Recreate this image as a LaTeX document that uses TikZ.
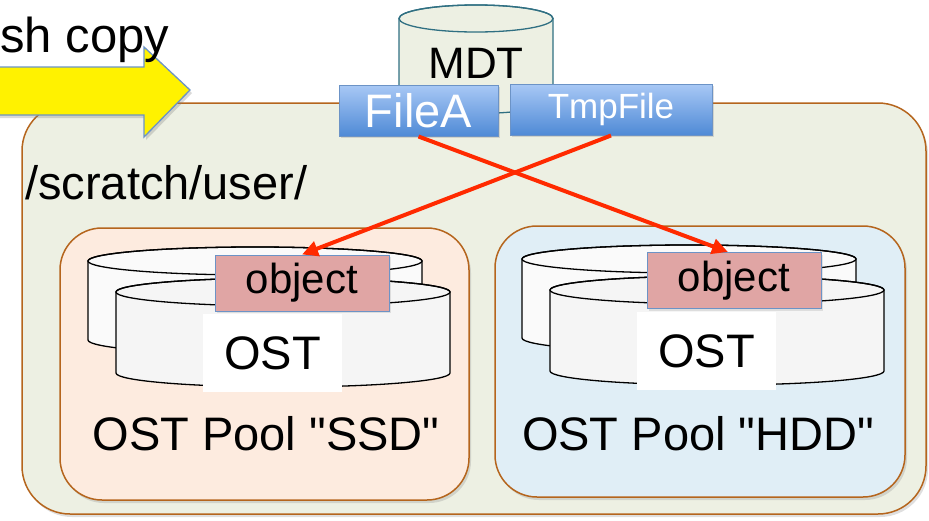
\documentclass[tikz,border=0pt]{standalone}
\usepackage{fontspec}
\setmainfont{Liberation Sans}
\usetikzlibrary{shadows, arrows.meta}
\definecolor{scratchbg}{HTML}{EDF0E3}
\definecolor{poolline}{HTML}{B5651D}
\definecolor{ssdbg}{HTML}{FDEBDF}
\definecolor{hddbg}{HTML}{E0EEF6}
\definecolor{objfill}{HTML}{E0A5A4}
\definecolor{blueline}{HTML}{6C93C6}
\definecolor{filetop}{HTML}{A8C8F5}
\definecolor{filebot}{HTML}{4F8AD6}
\definecolor{mdtline}{HTML}{2F6F82}
\definecolor{redarrow}{HTML}{FF2A00}

\begin{document}
\begin{tikzpicture}[x=1pt, y=-1pt]
			\tikzstyle{pool}=[
			draw=poolline,
			line width=1.5pt,
			rounded corners=42pt,
			drop shadow={opacity=0.25, shadow xshift=2pt, shadow yshift=-3pt}]
			\tikzstyle{bigtext}=[
			inner sep=0pt,
			font=\fontsize{47}{50}\selectfont]
			\tikzstyle{objbox}=[
			draw=blueline,
			fill=objfill,
			line width=1pt,
			inner sep=0pt,
			minimum width=174pt,
			minimum height=56pt,
			font=\fontsize{42}{44}\selectfont,
			drop shadow={opacity=0.2, shadow xshift=2pt, shadow yshift=-2pt}]
			\tikzstyle{ostbox}=[
			fill=white,
			inner sep=0pt,
			minimum width=139pt,
			minimum height=78pt,
			font=\fontsize{47}{50}\selectfont]
			\tikzstyle{filebox}=[
			draw=blueline,
			line width=1pt,
			top color=filetop,
			bottom color=filebot,
			text=white,
			inner sep=0pt,
			minimum height=51pt,
			drop shadow={opacity=0.25, shadow xshift=2pt, shadow yshift=-2pt}]
			\tikzstyle{redline}=[
			draw=redarrow,
			line width=4pt,
			-{Triangle[length=16pt, width=15pt]}]
			\useasboundingbox (0,0) rectangle (929,520);
			%
			\node[pool, fill=scratchbg, rounded corners=48pt, minimum width=904pt, minimum height=411pt] (scratch) at (474,308.5) {};
			\node[bigtext, anchor=base west] (scratchlabel) at (25,199) {/scratch/user/};
			\node[pool, fill=ssdbg, minimum width=409pt, minimum height=272pt] (ssd) at (264.5,364) {};
			\node[pool, fill=hddbg, minimum width=410pt, minimum height=271pt] (hdd) at (700,361.5) {};
			%
			\foreach \dx/\dy in {0/0, 434/-2} {
				\filldraw[fill=gray!4, line width=1.3pt] (88+\dx,261+\dy) -- (88+\dx,340+\dy)
					arc[start angle=180, end angle=0, x radius=167, y radius=14] -- (422+\dx,261+\dy)
					arc[start angle=0, end angle=-180, x radius=167, y radius=14] -- cycle;
				\draw[line width=1.3pt] (255+\dx,261+\dy) ellipse[x radius=167, y radius=14];
				\filldraw[fill=gray!8, line width=1.3pt] (116+\dx,292+\dy) -- (116+\dx,373+\dy)
					arc[start angle=180, end angle=0, x radius=167, y radius=14] -- (450+\dx,292+\dy)
					arc[start angle=0, end angle=-180, x radius=167, y radius=14] -- cycle;
				\draw[line width=1.3pt] (283+\dx,292+\dy) ellipse[x radius=167, y radius=14];
			}
			\node[objbox] (objS) at (302,283) {object};
			\node[objbox] (objH) at (734,280.5) {object};
			\node[ostbox] (ostS) at (272.5,353) {OST};
			\node[ostbox] (ostH) at (706.5,351) {OST};
			\node[bigtext, anchor=base] (ssdlabel) at (266,450) {OST Pool \textquotedbl SSD\textquotedbl};
			\node[bigtext, anchor=base] (hddlabel) at (698,450) {OST Pool \textquotedbl HDD\textquotedbl};
			%
			\filldraw[fill=scratchbg, draw=mdtline, line width=1.3pt] (399,18.5) -- (399,100)
				arc[start angle=180, end angle=0, x radius=77, y radius=13.5] -- (553,18.5)
				arc[start angle=0, end angle=-180, x radius=77, y radius=13.5] -- cycle;
			\draw[mdtline, line width=1.3pt] (476,18.5) ellipse[x radius=77, y radius=13.5];
			\node[inner sep=0pt, font=\fontsize{44}{46}\selectfont] (mdt) at (476,63) {MDT};
			\node[filebox, minimum width=159pt, font=\fontsize{47}{50}\selectfont] (fileA) at (418.5,110.5) {FileA};
			\node[filebox, minimum width=202pt, font=\fontsize{35}{38}\selectfont] (tmpFile) at (611,109.5) {TmpFile};
			%
			\path[redline] (fileA.south) -- ([xshift=-6pt]objH.north);
			\path[redline] (tmpFile.south) -- (objS.north);
			%
			\filldraw[fill=yellow, draw=blueline, line width=1.3pt, drop shadow={opacity=0.3, shadow xshift=2pt, shadow yshift=-3pt}]
				(-5,67) -- (144,67) -- (144,47) -- (190,90) -- (144,137) -- (144,115) -- (-5,115) -- cycle;
			\node[anchor=base west, inner sep=0pt, font=\fontsize{49}{52}\selectfont] (copylabel) at (0,52) {sh copy};
		\end{tikzpicture}
\end{document}
